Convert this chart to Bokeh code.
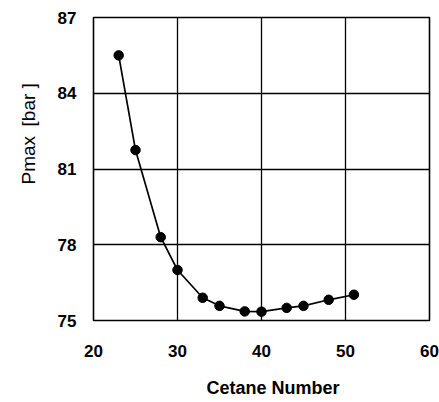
from bokeh.plotting import figure
from bokeh.models import Range1d, FixedTicker, Title
from bokeh.embed import file_html
from bokeh.resources import INLINE

# Peak cylinder pressure against fuel cetane number
cetane = [23, 25, 28, 30, 33, 35, 38, 40, 43, 45, 48, 51]
pmax = [85.5, 81.75, 78.3, 77.0, 75.9, 75.58, 75.36, 75.35, 75.5, 75.58, 75.82, 76.02]

x_ticks = [20, 30, 40, 50, 60]
y_ticks = [75, 78, 81, 84, 87]

FONT = "Liberation Sans"

p = figure(
    width=439, height=402,
    frame_width=336, frame_height=303,
    min_border_left=93, min_border_right=10,
    min_border_top=17, min_border_bottom=82,
    x_range=Range1d(20, 60), y_range=Range1d(75, 87),
    output_backend="svg", toolbar_location=None,
)
p.background_fill_color = "white"
p.border_fill_color = "white"
p.outline_line_color = "black"
p.outline_line_width = 1.6

for ax in (p.xaxis, p.yaxis):
    ax.axis_line_color = None
    ax.major_tick_line_color = None
    ax.minor_tick_line_color = None
    ax.major_label_text_font = FONT
    ax.major_label_text_font_style = "bold"
    ax.major_label_text_font_size = "17px"
    ax.major_label_text_color = "black"

p.xaxis.ticker = FixedTicker(ticks=x_ticks)
p.yaxis.ticker = FixedTicker(ticks=y_ticks)
p.xaxis.major_label_standoff = 18
p.yaxis.major_label_standoff = 11

p.xgrid.ticker = FixedTicker(ticks=x_ticks)
p.ygrid.ticker = FixedTicker(ticks=y_ticks)
for g in (p.xgrid, p.ygrid):
    g.grid_line_color = "black"
    g.grid_line_width = 1.3
    g.grid_line_alpha = 1.0

p.line(cetane, pmax, line_color="black", line_width=1.7)
p.scatter(cetane, pmax, size=9.5, fill_color="black", line_color="black")

# axis titles, placed as side titles so they can sit off-centre
p.add_layout(Title(
    text="Cetane Number", align="left", offset=113,
    text_font=FONT, text_font_style="bold", text_font_size="18px",
    text_color="black", standoff=32,
), "below")
p.add_layout(Title(
    text="Pmax\u2002[bar ]", align="left", offset=136,
    text_font=FONT, text_font_style="normal", text_font_size="19px",
    text_color="black", standoff=31,
), "left")

open("out.html", "w").write(file_html(p, INLINE))
